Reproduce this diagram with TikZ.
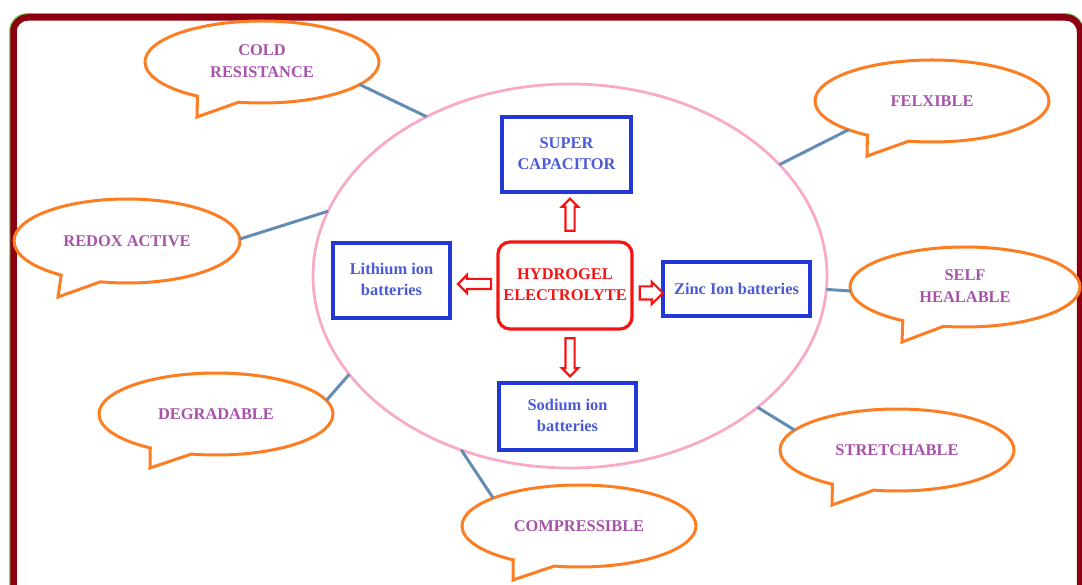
\documentclass[tikz,border=0pt]{standalone}
\usepackage{fontspec}
\setmainfont{Liberation Serif}
\usetikzlibrary{shapes.geometric,shapes.callouts,shapes.arrows}
\definecolor{framered}{RGB}{140,0,18}
\definecolor{framegreen}{RGB}{110,190,70}
\definecolor{bubbleorange}{RGB}{253,125,35}
\definecolor{propviolet}{RGB}{168,82,172}
\definecolor{boxblue}{RGB}{35,55,215}
\definecolor{boxtext}{RGB}{75,90,215}
\definecolor{gelred}{RGB}{245,20,20}
\definecolor{ringpink}{RGB}{248,170,200}
\definecolor{linkblue}{RGB}{100,140,180}
\newcommand{\two}[2]{\begin{tabular}{@{}c@{}}#1\\#2\end{tabular}}
\tikzset{
  txt/.style={font=\fontsize{16.4}{21.5}\selectfont\bfseries},
  bubble/.style={ellipse callout, txt, draw=bubbleorange, line width=3pt, fill=white,
    text=propviolet, inner sep=0pt, outer sep=0pt, minimum width=234pt,
    minimum height=82pt, callout pointer arc=22},
  unit/.style={txt, rectangle, draw=boxblue, line width=3.2pt, text=boxtext, inner sep=0pt},
  gel/.style={txt, rectangle, rounded corners=12pt, draw=gelred, line width=3.2pt,
    text=gelred, inner sep=0pt, minimum width=134pt, minimum height=87pt},
  ring/.style={ellipse, draw=ringpink, line width=2.8pt, inner sep=0pt, outer sep=0pt,
    minimum width=514pt, minimum height=384pt},
  gelarrow/.style={single arrow, draw=gelred, line width=2.2pt, fill=white, outer sep=0pt},
  link/.style={draw=linkblue, line width=3pt}
}
\begin{document}
\begin{tikzpicture}[x=1pt,y=-1pt]
  \useasboundingbox (0,0) rectangle (1082,585);
  % outer frame
  \draw[framegreen, line width=1.5pt, rounded corners=17pt] (10,600) -- (10,14) -- (1083,14) -- (1083,600);
  \draw[framered, line width=6.5pt, rounded corners=14pt] (13.5,600) -- (13.5,17.5) -- (1080,17.5) -- (1080,600);

  \node[ring] (hub) at (570,276) {};

  \node[gel] (hyd) at (565,285.5) {\two{HYDROGEL}{ELECTROLYTE}};
  \node[unit, minimum width=129pt, minimum height=75pt] (cap) at (566.5,154.5) {\two{SUPER}{CAPACITOR}};
  \node[unit, minimum width=117pt, minimum height=75pt] (li) at (391.5,280.5) {\two{Lithium ion}{batteries}};
  \node[unit, minimum width=147pt, minimum height=54pt] (zn) at (736.5,289) {Zinc Ion batteries};
  \node[unit, minimum width=137pt, minimum height=67pt] (na) at (567.5,416.5) {\two{Sodium ion}{batteries}};

  \node[gelarrow, shape border rotate=90, minimum height=32pt, inner sep=3.5pt, single arrow head extend=3.5pt] (upgo) at (570,217) {};
  \node[gelarrow, shape border rotate=180, minimum height=33pt, inner sep=4pt, single arrow head extend=4pt] (ligo) at (477,284) {};
  \node[gelarrow, shape border rotate=0, minimum height=23pt, inner sep=5.5pt, single arrow head extend=4.5pt] (zngo) at (648,293) {};
  \node[gelarrow, shape border rotate=270, minimum height=38pt, inner sep=3.5pt, single arrow head extend=3.5pt] (nago) at (570,355) {};

  \node[bubble, callout absolute pointer={(197,117)}] (cold) at (262,62) {\two{COLD}{RESISTANCE}};
  \node[bubble, callout absolute pointer={(867,156)}] (flex) at (932,101) {FELXIBLE};
  \node[bubble, minimum width=226pt, minimum height=84pt, callout absolute pointer={(58,297)}] (redox) at (127,241) {REDOX ACTIVE};
  \node[bubble, minimum width=230pt, minimum height=80pt, callout absolute pointer={(902,342)}] (heal) at (965,287) {\two{SELF}{HEALABLE}};
  \node[bubble, callout absolute pointer={(150,468)}] (degr) at (216,414) {DEGRADABLE};
  \node[bubble, callout absolute pointer={(832,505)}] (strt) at (897,450) {STRETCHABLE};
  \node[bubble, callout absolute pointer={(513,580)}] (comp) at (579,526) {COMPRESSIBLE};

  \draw[link] (hub.132.4) -- (cold.-13.8);
  \draw[link] (hub.28.7) -- (flex.199);
  \draw[link] (hub.165.5) -- (redox.1);
  \draw[link] (hub.-3.3) -- (heal.182);
  \draw[link] (hub.204.9) -- (degr.7.7);
  \draw[link] (hub.-35.1) -- (strt.169);
  \draw[link] (hub.-122.2) -- (comp.162.5);
\end{tikzpicture}
\end{document}
